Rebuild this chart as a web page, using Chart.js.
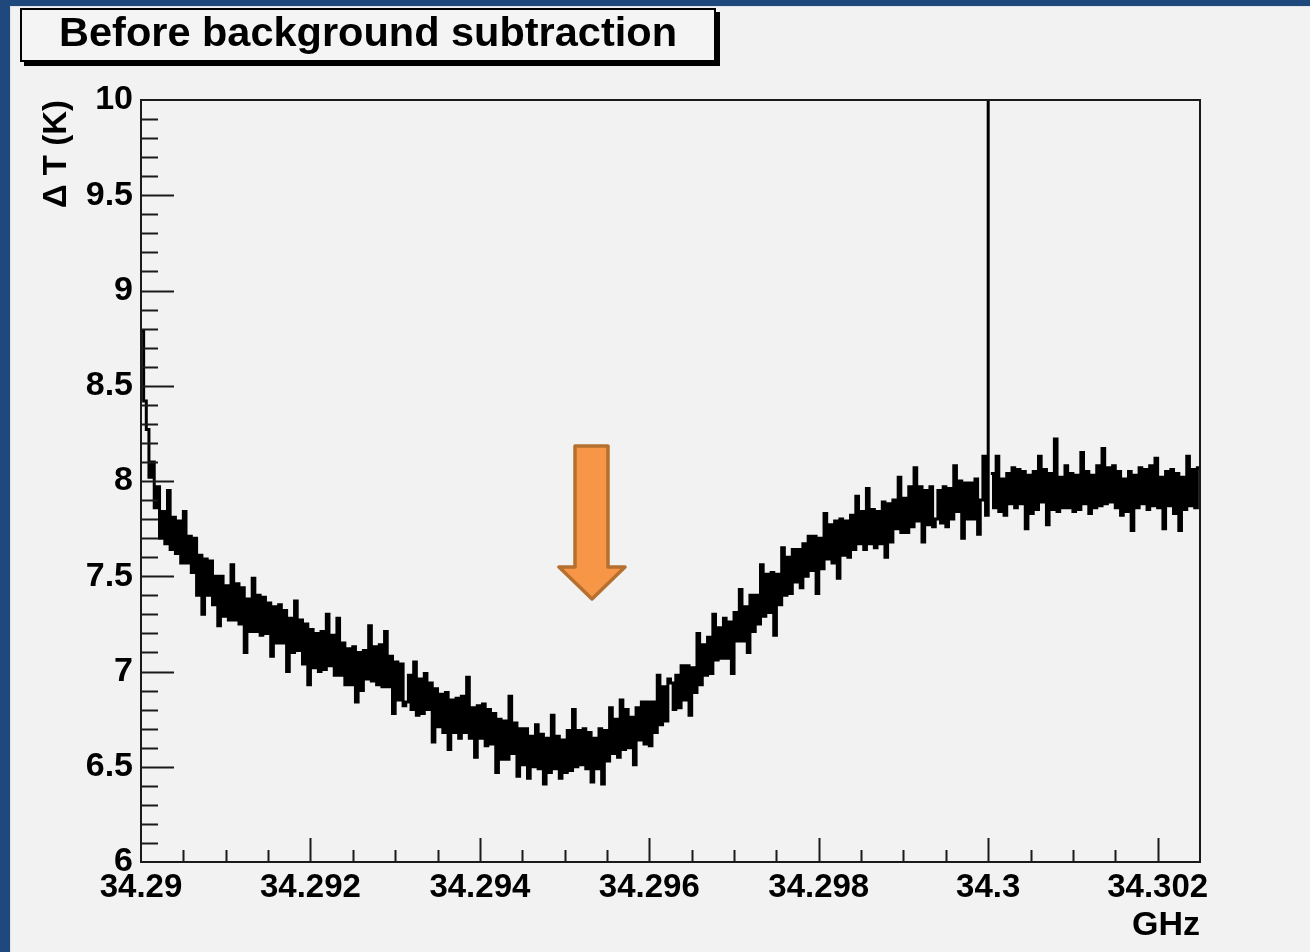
<!DOCTYPE html>
<html>
<head>
<meta charset="utf-8">
<script src="https://cdn.jsdelivr.net/npm/chart.js@4/dist/chart.umd.min.js"></script>
<style>
  html, body { margin: 0; padding: 0; }
  body { width: 1310px; height: 952px; background: #1f497d; position: relative; overflow: hidden; font-family: "Liberation Sans", Arial, sans-serif; }
  #panel { position: absolute; left: 10px; top: 6px; right: 0; bottom: 0; background: #f2f2f2; border-left: 1px solid #dfe3ea; border-top: 1px solid #dfe3ea; }
  #c { position: absolute; left: 0; top: 0; }
  #titlebox { position: absolute; left: 20px; top: 8px; width: 692px; height: 50px; border: 2px solid #000; background: #f4f4f4;
    box-shadow: 4px 4px 0 #000; font-weight: bold; font-size: 41.5px; line-height: 44px; text-align: center; color: #000; }
  #arrow { position: absolute; left: 0; top: 0; }
</style>
</head>
<body>
<div id="panel"></div>
<canvas id="c" width="1310" height="952"></canvas>
<div id="titlebox">Before background subtraction</div>
<svg id="arrow" width="1310" height="952">
  <polygon points="575,446 608,446 608,567 625,567 592,599 559,567 575,567" fill="#f79646" stroke="#b5702f" stroke-width="3.5" stroke-linejoin="round"/>
</svg>
<script>
// ---- Data (ΔT in K per frequency bin, GHz) ----
const xMin = 34.29;
const xMax = 34.3025;
const yMin = 6;
const yMax = 10;
const xTickValues = [34.29, 34.292, 34.294, 34.296, 34.298, 34.3, 34.302];
const xTickLabels = ['34.29', '34.292', '34.294', '34.296', '34.298', '34.3', '34.302'];
const yTickValues = [6, 6.5, 7, 7.5, 8, 8.5, 9, 9.5, 10];
const yTickLabels = ['6', '6.5', '7', '7.5', '8', '8.5', '9', '9.5', '10'];

const segA = [
  8.79, 8.42, 8.27, 8.02, 8.10, 7.86, 7.97, 7.70, 7.84, 7.67,
  7.95, 7.64, 7.81, 7.62, 7.79, 7.57, 7.84, 7.57, 7.71, 7.52,
  7.70, 7.40, 7.61, 7.30, 7.59, 7.40, 7.58, 7.35, 7.50, 7.24,
  7.50, 7.29, 7.45, 7.27, 7.56, 7.27, 7.46, 7.25, 7.44, 7.10,
  7.38, 7.21, 7.49, 7.21, 7.40, 7.19, 7.39, 7.20, 7.36, 7.08];
const segB = [
  7.34, 7.15, 7.35, 7.15, 7.32, 7.00, 7.28, 7.10, 7.37, 7.11,
  7.27, 7.04, 7.25, 6.93, 7.22, 7.02, 7.20, 7.00, 7.21, 7.01,
  7.30, 7.03, 7.19, 6.98, 7.28, 6.98, 7.15, 6.93, 7.12, 6.93,
  7.13, 6.84, 7.10, 6.90, 7.11, 6.96, 7.24, 6.95, 7.13, 6.93,
  7.14, 6.92, 7.21, 6.92, 7.08, 6.78, 7.05, 6.85, 7.04, 6.82];
const segC = [
  6.84, 6.98, 6.80, 7.05, 6.77, 6.96, 6.78, 6.99, 6.80, 6.94,
  6.63, 6.91, 6.71, 6.88, 6.68, 6.89, 6.59, 6.85, 6.68, 6.86,
  6.65, 6.87, 6.68, 6.97, 6.65, 6.81, 6.55, 6.82, 6.65, 6.83,
  6.61, 6.80, 6.62, 6.78, 6.47, 6.75, 6.54, 6.74, 6.54, 6.87,
  6.57, 6.73, 6.45, 6.70, 6.51, 6.70, 6.44, 6.66, 6.50, 6.72];
const segD = [
  6.49, 6.67, 6.41, 6.65, 6.47, 6.77, 6.49, 6.66, 6.44, 6.64,
  6.47, 6.69, 6.48, 6.80, 6.50, 6.69, 6.51, 6.70, 6.49, 6.68,
  6.42, 6.65, 6.49, 6.70, 6.41, 6.69, 6.53, 6.81, 6.57, 6.75,
  6.55, 6.85, 6.59, 6.80, 6.60, 6.76, 6.51, 6.81, 6.64, 6.84,
  6.62, 6.84, 6.61, 6.84, 6.68, 6.98, 6.72, 6.92, 6.74, 6.96];
const segE = [
  6.94, 6.80, 6.98, 6.81, 7.03, 6.85, 7.03, 6.77, 7.02, 6.89,
  7.20, 6.93, 7.14, 6.98, 7.18, 6.99, 7.30, 7.06, 7.23, 7.07,
  7.28, 7.07, 7.26, 6.99, 7.31, 7.16, 7.43, 7.16, 7.34, 7.10,
  7.40, 7.21, 7.40, 7.25, 7.56, 7.29, 7.51, 7.31, 7.52, 7.19,
  7.51, 7.35, 7.65, 7.40, 7.60, 7.41, 7.64, 7.47, 7.64, 7.44];
const segF = [
  7.67, 7.50, 7.71, 7.53, 7.71, 7.41, 7.70, 7.54, 7.83, 7.59,
  7.77, 7.57, 7.79, 7.49, 7.80, 7.61, 7.79, 7.60, 7.82, 7.64,
  7.92, 7.67, 7.84, 7.64, 7.96, 7.67, 7.85, 7.65, 7.84, 7.67,
  7.89, 7.60, 7.88, 7.68, 7.90, 7.75, 8.02, 7.73, 7.91, 7.73,
  7.97, 7.76, 8.07, 7.79, 7.97, 7.68, 7.95, 7.77, 7.97, 7.76];
const segG = [
  7.80, 7.95, 7.78, 7.97, 7.76, 7.96, 7.80, 8.08, 7.84, 8.00,
  7.70, 7.99, 7.80, 7.99, 7.80, 8.01, 7.72, 7.90, 8.13, 7.82,
  12.0, 8.04, 7.86, 8.13, 7.84, 8.01, 7.82, 8.04, 7.88, 8.07,
  7.86, 8.06, 7.88, 8.05, 7.75, 8.03, 7.83, 8.05, 7.85, 8.13,
  7.89, 8.06, 7.77, 8.04, 7.85, 8.22, 7.84, 8.02, 7.86, 8.08];
const segH = [
  7.86, 8.04, 7.84, 8.03, 7.85, 8.15, 7.88, 8.05, 7.83, 8.03,
  7.86, 8.08, 7.87, 8.17, 7.88, 8.07, 7.89, 8.08, 7.86, 8.05,
  7.82, 8.01, 7.84, 8.05, 7.74, 8.03, 7.86, 8.07, 7.88, 8.06,
  7.85, 8.08, 7.87, 8.12, 7.86, 8.02, 7.75, 8.05, 7.87, 8.06,
  7.83, 8.04, 7.74, 8.02, 7.85, 8.13, 7.87, 8.06, 7.86, 8.07];

const deltaT = [].concat(segA, segB, segC, segD, segE, segF, segG, segH);
const binWidth = (xMax - xMin) / deltaT.length;

// histogram points at bin low edges, plus the closing upper edge
const histPoints = deltaT.map((v, i) => ({ x: xMin + i * binWidth, y: v }));
histPoints.push({ x: xMax, y: deltaT[deltaT.length - 1] });

// the off-scale spike bin: draw only its rising edge so it reads as one thin line
const spikeIndex = deltaT.findIndex(v => v > yMax);

// ---- Styling ----
Chart.defaults.font.family = '"Liberation Sans", Arial, sans-serif';
Chart.defaults.font.weight = 'bold';
Chart.defaults.color = '#000';

const frameTicks = {
  id: 'frameTicks',
  afterDatasetsDraw(chart) {
    const { ctx, chartArea: a, scales: { x, y } } = chart;
    ctx.save();
    ctx.strokeStyle = '#1a1a1a';
    ctx.lineWidth = 2;
    ctx.strokeRect(a.left, a.top, a.right - a.left, a.bottom - a.top);
    ctx.beginPath();
    for (let k = 1; k < 40; k++) {
      const v = yMin + k * 0.1;
      const py = Math.round(y.getPixelForValue(v)) + 0.5;
      const len = (k % 5 === 0) ? 33 : 17;
      ctx.moveTo(a.left, py);
      ctx.lineTo(a.left + len, py);
    }
    for (let k = 1; k <= 24; k++) {
      const v = xMin + k * 0.0005;
      const px = Math.round(x.getPixelForValue(v)) + 0.5;
      const len = (k % 4 === 0) ? 24 : 12;
      ctx.moveTo(px, a.bottom);
      ctx.lineTo(px, a.bottom - len);
    }
    ctx.stroke();
    ctx.restore();
  }
};

new Chart(document.getElementById('c'), {
  type: 'line',
  data: {
    datasets: [{
      data: histPoints,
      borderColor: '#000',
      borderWidth: 3,
      borderCapStyle: 'butt',
      borderJoinStyle: 'miter',
      pointRadius: 0,
      stepped: 'before',
      fill: false,
      tension: 0,
      segment: {
        borderColor: c => (c.p0DataIndex === spikeIndex ? 'rgba(0,0,0,0)' : '#000')
      }
    }]
  },
  options: {
    responsive: false,
    devicePixelRatio: 1,
    animation: false,
    events: [],
    layout: { padding: { left: 0, top: 100, right: 110, bottom: 0 } },
    plugins: { legend: { display: false }, title: { display: false }, tooltip: { enabled: false } },
    scales: {
      x: {
        type: 'linear',
        min: xMin,
        max: xMax,
        grid: { display: false, drawTicks: false },
        border: { display: false },
        afterBuildTicks(s) { s.ticks = xTickValues.map(v => ({ value: v })); },
        afterFit(s) { s.height = 90; },
        ticks: {
          autoSkip: false,
          maxRotation: 0,
          padding: 6,
          font: { size: 33, weight: 'bold' },
          callback: (v, i) => xTickLabels[i]
        },
        title: {
          display: true, text: 'GHz', align: 'end',
          font: { size: 34, weight: 'bold' },
          padding: { top: 0, bottom: 6 }
        }
      },
      y: {
        type: 'linear',
        min: yMin,
        max: yMax,
        grid: { display: false, drawTicks: false },
        border: { display: false },
        afterBuildTicks(s) { s.ticks = yTickValues.map(v => ({ value: v })); },
        afterFit(s) { s.width = 141; },
        ticks: {
          autoSkip: false,
          padding: 8,
          font: { size: 34, weight: 'bold' },
          callback: (v, i) => yTickLabels[i]
        },
        title: {
          display: true, text: 'Δ T (K)', align: 'end',
          font: { size: 33, weight: 'bold' },
          padding: { top: 37, bottom: 0 }
        }
      }
    }
  },
  plugins: [frameTicks]
});
</script>
</body>
</html>
